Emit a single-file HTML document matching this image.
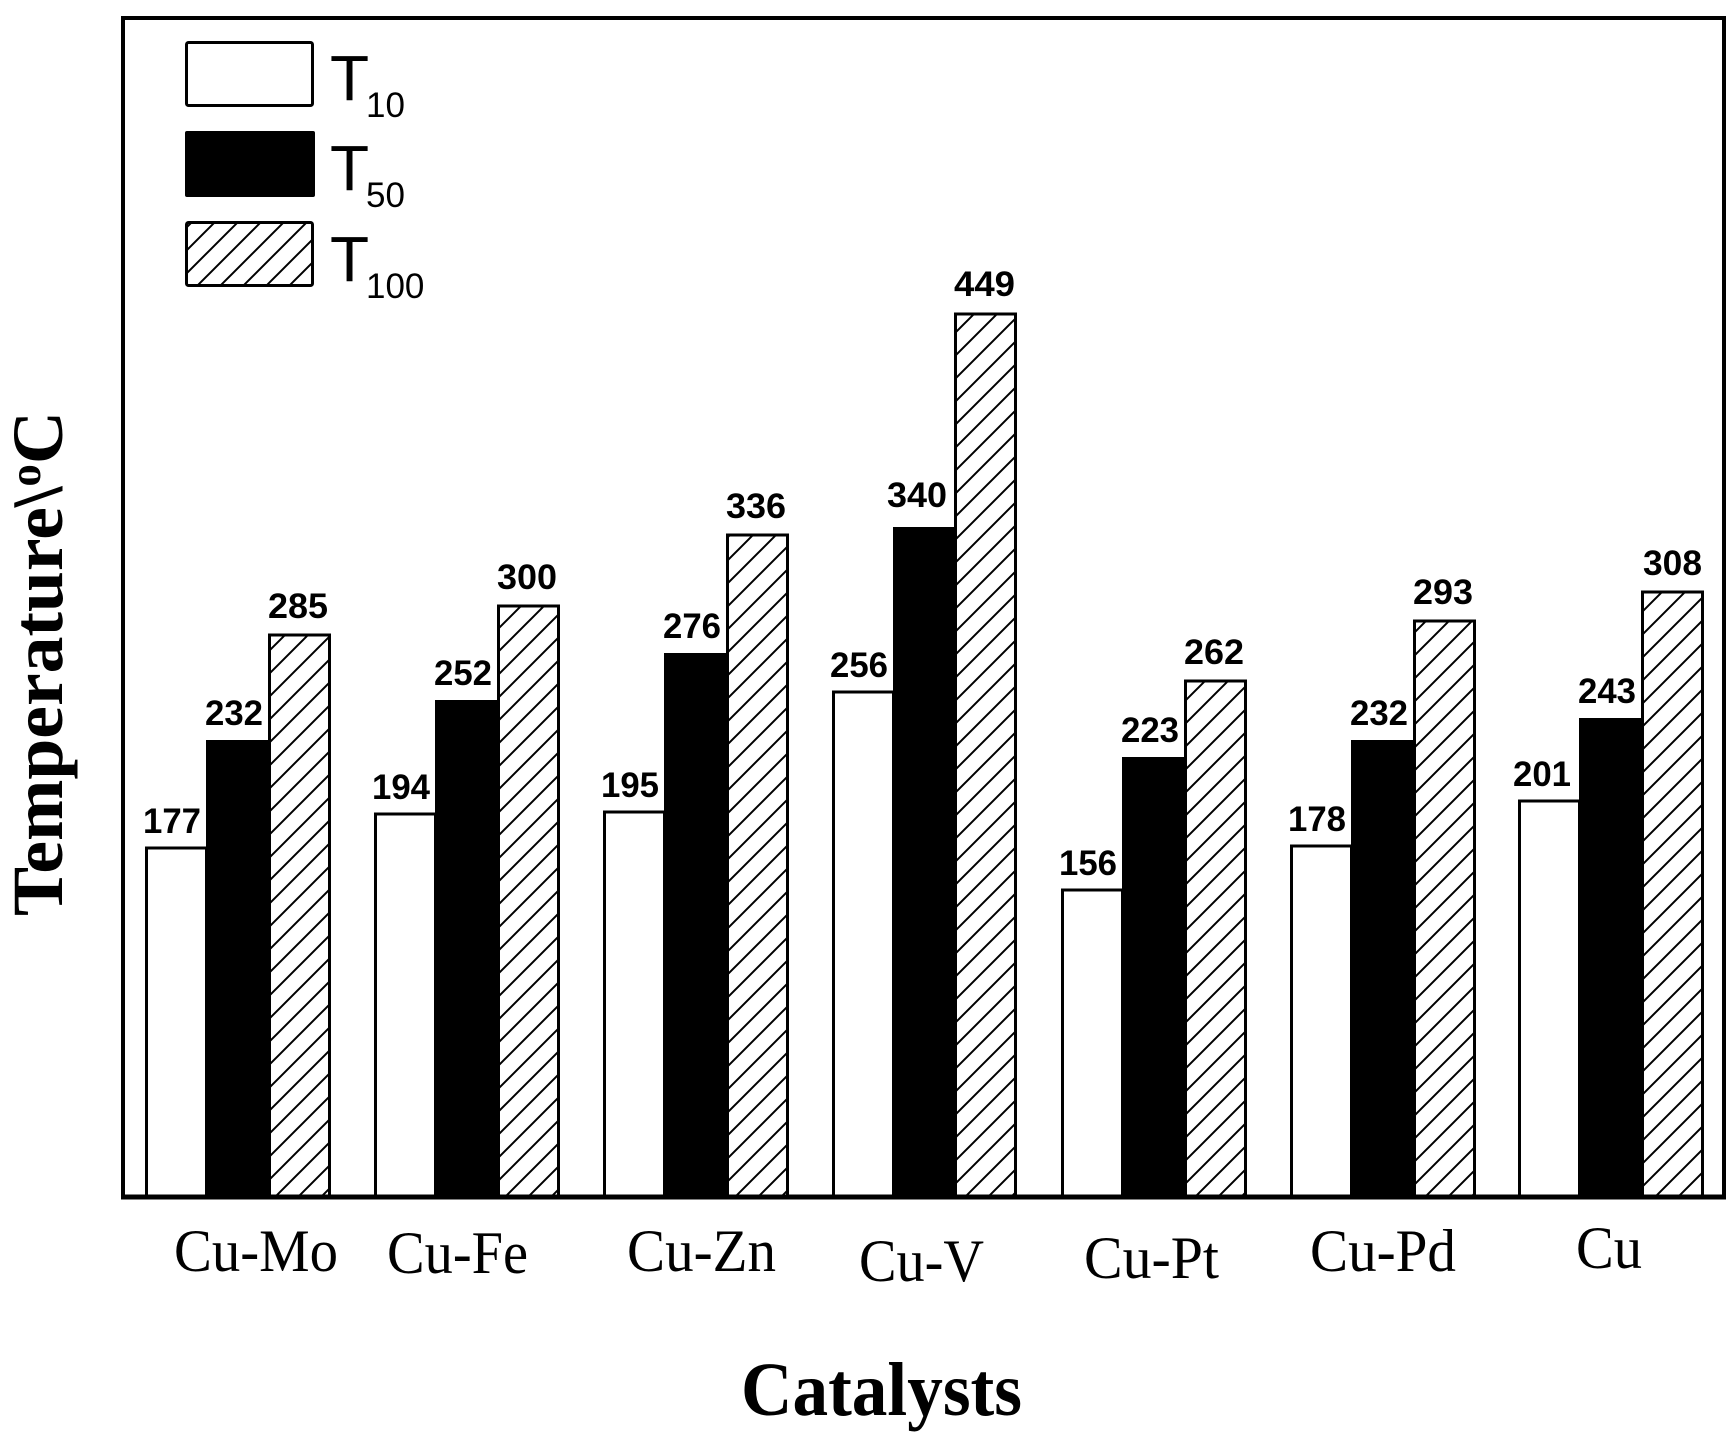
<!DOCTYPE html>
<html><head><meta charset="utf-8"><style>
html,body{margin:0;padding:0;background:#fff;}
svg{display:block;}
</style></head><body>
<svg width="1735" height="1444" viewBox="0 0 1735 1444" xmlns="http://www.w3.org/2000/svg">
<defs>
<pattern id="h" patternUnits="userSpaceOnUse" width="23" height="23">
<rect width="23" height="23" fill="#fff"/>
<path d="M-2,25 L25,-2 M-13,13 L13,-13 M10,36 L36,10" stroke="#000" stroke-width="2"/>
</pattern>
</defs>
<path d="M123,1197 L123,18 L1724,18 L1724,1197" fill="none" stroke="#000" stroke-width="4"/>

<g font-family="Liberation Sans, Arial, sans-serif" font-weight="bold" font-size="35" fill="#000">
<rect x="146.5" y="848" width="60" height="349" fill="#fff" stroke="#000" stroke-width="3"/>
<text x="143" y="833" textLength="58" lengthAdjust="spacingAndGlyphs">177</text>
<rect x="206" y="740" width="62" height="457" fill="#000"/>
<text x="205" y="725" textLength="58" lengthAdjust="spacingAndGlyphs">232</text>
<rect x="269.5" y="635" width="60" height="562" fill="url(#h)" stroke="#000" stroke-width="3"/>
<text x="268" y="618" textLength="60" lengthAdjust="spacingAndGlyphs">285</text>

<rect x="375.5" y="814" width="60" height="383" fill="#fff" stroke="#000" stroke-width="3"/>
<text x="372" y="799" textLength="58" lengthAdjust="spacingAndGlyphs">194</text>
<rect x="435" y="700" width="62" height="497" fill="#000"/>
<text x="434" y="685" textLength="58" lengthAdjust="spacingAndGlyphs">252</text>
<rect x="498.5" y="606" width="60" height="591" fill="url(#h)" stroke="#000" stroke-width="3"/>
<text x="497" y="589" textLength="60" lengthAdjust="spacingAndGlyphs">300</text>

<rect x="604.5" y="812" width="60" height="385" fill="#fff" stroke="#000" stroke-width="3"/>
<text x="601" y="797" textLength="58" lengthAdjust="spacingAndGlyphs">195</text>
<rect x="664" y="653" width="62" height="544" fill="#000"/>
<text x="663" y="638" textLength="58" lengthAdjust="spacingAndGlyphs">276</text>
<rect x="727.5" y="535" width="60" height="662" fill="url(#h)" stroke="#000" stroke-width="3"/>
<text x="726" y="518" textLength="60" lengthAdjust="spacingAndGlyphs">336</text>

<rect x="833.5" y="692" width="60" height="505" fill="#fff" stroke="#000" stroke-width="3"/>
<text x="830" y="677" textLength="58" lengthAdjust="spacingAndGlyphs">256</text>
<rect x="893" y="527" width="62" height="670" fill="#000"/>
<text x="887" y="507" textLength="60" lengthAdjust="spacingAndGlyphs">340</text>
<rect x="955.5" y="314" width="60" height="883" fill="url(#h)" stroke="#000" stroke-width="3"/>
<text x="954" y="296" textLength="61" lengthAdjust="spacingAndGlyphs">449</text>

<rect x="1062.5" y="890" width="60" height="307" fill="#fff" stroke="#000" stroke-width="3"/>
<text x="1059" y="875" textLength="58" lengthAdjust="spacingAndGlyphs">156</text>
<rect x="1122" y="757" width="62" height="440" fill="#000"/>
<text x="1121" y="742" textLength="58" lengthAdjust="spacingAndGlyphs">223</text>
<rect x="1185.5" y="681" width="60" height="516" fill="url(#h)" stroke="#000" stroke-width="3"/>
<text x="1184" y="664" textLength="60" lengthAdjust="spacingAndGlyphs">262</text>

<rect x="1291.5" y="846" width="60" height="351" fill="#fff" stroke="#000" stroke-width="3"/>
<text x="1288" y="831" textLength="58" lengthAdjust="spacingAndGlyphs">178</text>
<rect x="1351" y="740" width="62" height="457" fill="#000"/>
<text x="1350" y="725" textLength="58" lengthAdjust="spacingAndGlyphs">232</text>
<rect x="1414.5" y="621" width="60" height="576" fill="url(#h)" stroke="#000" stroke-width="3"/>
<text x="1413" y="604" textLength="60" lengthAdjust="spacingAndGlyphs">293</text>

<rect x="1519.5" y="801" width="60" height="396" fill="#fff" stroke="#000" stroke-width="3"/>
<text x="1513" y="786" textLength="58" lengthAdjust="spacingAndGlyphs">201</text>
<rect x="1579" y="718" width="62" height="479" fill="#000"/>
<text x="1578" y="703" textLength="58" lengthAdjust="spacingAndGlyphs">243</text>
<rect x="1642.5" y="592" width="60" height="605" fill="url(#h)" stroke="#000" stroke-width="3"/>
<text x="1643" y="575" textLength="59" lengthAdjust="spacingAndGlyphs">308</text>
</g>

<line x1="121" y1="1197" x2="1726" y2="1197" stroke="#000" stroke-width="5"/>

<rect x="186.5" y="42.5" width="126" height="63" fill="#fff" stroke="#000" stroke-width="3" rx="2"/>
<rect x="185" y="131" width="130" height="66" fill="#000" rx="2"/>
<rect x="186.5" y="222.5" width="126" height="63" fill="url(#h)" stroke="#000" stroke-width="3" rx="2"/>
<g font-family="Liberation Sans, Arial, sans-serif" fill="#000">
<text x="330" y="100" font-size="64">T</text><text x="366" y="117" font-size="35">10</text>
<text x="330" y="190" font-size="64">T</text><text x="366" y="207" font-size="35">50</text>
<text x="330" y="281" font-size="64">T</text><text x="366" y="298" font-size="35">100</text>
</g>

<g font-family="Liberation Serif, 'Times New Roman', serif" font-size="60" fill="#000">
<text x="174" y="1271" textLength="164" lengthAdjust="spacingAndGlyphs">Cu-Mo</text>
<text x="387" y="1273" textLength="141" lengthAdjust="spacingAndGlyphs">Cu-Fe</text>
<text x="627" y="1271" textLength="149" lengthAdjust="spacingAndGlyphs">Cu-Zn</text>
<text x="859" y="1281" textLength="125" lengthAdjust="spacingAndGlyphs">Cu-V</text>
<text x="1084" y="1278" textLength="135" lengthAdjust="spacingAndGlyphs">Cu-Pt</text>
<text x="1310" y="1271" textLength="146" lengthAdjust="spacingAndGlyphs">Cu-Pd</text>
<text x="1576" y="1268" textLength="66" lengthAdjust="spacingAndGlyphs">Cu</text>
</g>
<text x="741" y="1415" font-family="Liberation Serif, 'Times New Roman', serif" font-weight="bold" font-size="76" textLength="281" lengthAdjust="spacingAndGlyphs">Catalysts</text>
<text transform="translate(62,916) rotate(-90)" x="0" y="0" font-family="Liberation Serif, 'Times New Roman', serif" font-weight="bold" font-size="72" textLength="505" lengthAdjust="spacingAndGlyphs">Temperature\<tspan font-size="44" dy="-22">o</tspan><tspan dy="22">C</tspan></text>
</svg>
</body></html>
